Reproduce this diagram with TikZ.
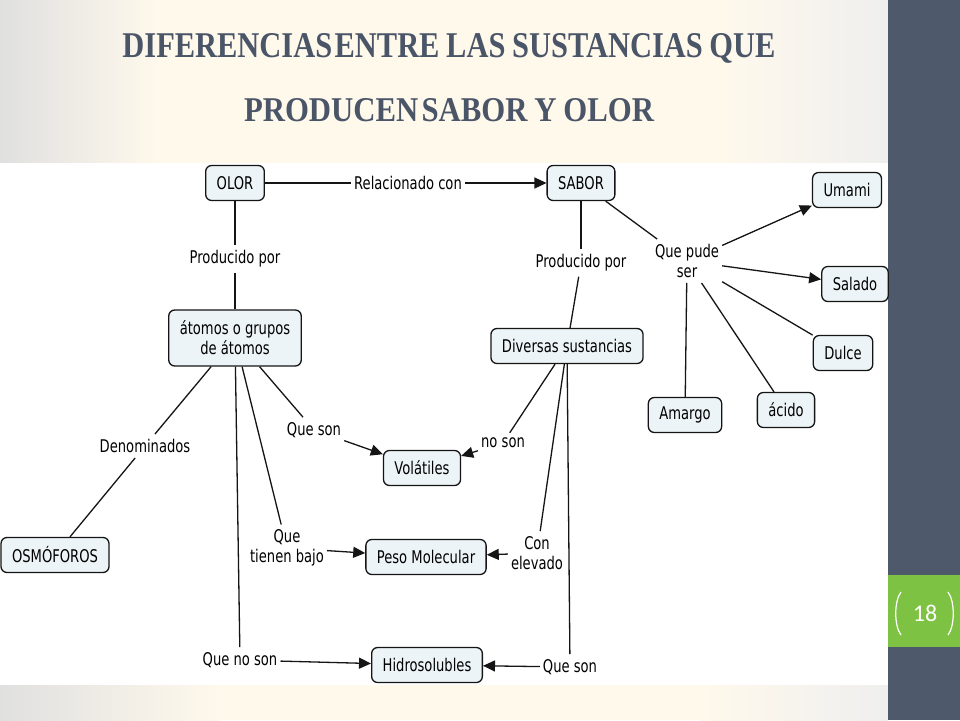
\documentclass[tikz,border=0pt]{standalone}
\usepackage{fontspec}
\setmainfont{DejaVu Sans}[FakeStretch=0.75]
\newfontfamily\titlefont{Liberation Serif}
\newfontfamily\numfont{Carlito}
\usetikzlibrary{arrows.meta}
\definecolor{titlecol}{HTML}{4A5568}
\definecolor{sidecol}{HTML}{4E5A6B}
\definecolor{greencol}{HTML}{7DC242}
\definecolor{boxfill}{HTML}{EDF4F7}
\definecolor{linecol}{HTML}{151515}
\definecolor{bggray}{HTML}{E0E0E0}
\definecolor{bgcream}{HTML}{FFF9EC}
\definecolor{bgright}{HTML}{EFEFEF}
\newcommand{\tsp}{\hspace{0.22em}}
\begin{document}
\begin{tikzpicture}[x=1pt,y=-1pt,
  cbox/.style={draw=linecol, line width=1.3pt, fill=boxfill, rounded corners=6pt, inner xsep=11pt, inner ysep=0pt, minimum height=35pt, font=\fontsize{17.5}{20}\selectfont, align=center},
  lab/.style={inner xsep=3pt, inner ysep=5pt, font=\fontsize{17.5}{20}\selectfont, align=center},
  conn/.style={draw=linecol, line width=1.3pt},
  arr/.style={conn, -{Triangle[length=12pt,width=11pt]}},
  ttl/.style={anchor=base, inner sep=0pt, text=titlecol}
]
\useasboundingbox (0,0) rectangle (960,720);
% background
\fill[bgcream] (0,0) rectangle (888,163);
\fill[bgcream] (0,685) rectangle (888,720);
\shade[left color=bggray, right color=bgcream] (0,0) rectangle (160,163);
\shade[left color=bgcream, right color=bgright] (720,0) rectangle (888,163);
\shade[left color=bggray, right color=bgcream] (0,685) rectangle (220,720);
\shade[left color=bgcream, right color=bgright] (700,685) rectangle (888,720);
\fill[white] (0,163) rectangle (888,685);
\fill[sidecol] (888,0) rectangle (960,720);
\fill[greencol] (888,575) rectangle (960,647);
\draw[white, line width=1.2pt] (901,592) .. controls (894,601) and (894,626) .. (901,635);
\draw[white, line width=1.2pt] (948,592) .. controls (955,601) and (955,626) .. (948,635);
\node[text=white, font=\numfont\fontsize{24}{24}\selectfont] (num) at (925,613) {18};
% title
\node[ttl] (t1) at (449,57) {\resizebox{653pt}{24pt}{\titlefont\bfseries DIFERENCIAS\hspace{0.08em}ENTRE\tsp LAS\tsp SUSTANCIAS\tsp QUE}};
\node[ttl] (t2) at (449,121) {\resizebox{410pt}{23pt}{\titlefont\bfseries PRODUCEN\hspace{0.1em}SABOR\tsp Y\tsp OLOR}};
% concepts
\node[cbox] (olor) at (235,183) {OLOR};
\node[cbox] (sabor) at (581,183) {SABOR};
\node[cbox, minimum height=56pt] (atomos) at (235,338) {átomos o grupos\\de átomos};
\node[cbox] (diversas) at (567,346) {Diversas sustancias};
\node[cbox] (umami) at (847,190) {Umami};
\node[cbox] (salado) at (855,284) {Salado};
\node[cbox] (dulce) at (843,353) {Dulce};
\node[cbox] (acido) at (786,410) {ácido};
\node[cbox] (amargo) at (685,415) {Amargo};
\node[cbox] (osmo) at (55,555) {OSMÓFOROS};
\node[cbox] (volatiles) at (422,468) {Volátiles};
\node[cbox] (peso) at (426,557) {Peso Molecular};
\node[cbox] (hidro) at (427,665) {Hidrosolubles};
% linking phrases
\node[lab] (rel) at (408,183) {Relacionado con};
\node[lab] (prod1) at (235,259) {Producido por};
\node[lab] (prod2) at (581,263) {Producido por};
\node[lab] (qps) at (687,261) {Que pude\\ser};
\node[lab] (denom) at (145,446) {Denominados};
\node[lab] (queson1) at (314,430) {Que son};
\node[lab] (tienen) at (287,548) {Que\\tienen bajo};
\node[lab] (queno) at (240,660) {Que no son};
\node[lab] (noson) at (503,443) {no son};
\node[lab] (conelev) at (537,553) {Con\\elevado};
\node[lab] (queson2) at (570,667) {Que son};
% connectors
\draw[conn] (olor) -- (rel);
\draw[arr] (rel) -- (sabor);
\draw[conn] (olor) -- (prod1);
\draw[conn] (prod1) -- (atomos);
\draw[conn] (sabor) -- (prod2);
\draw[conn] (prod2) -- (diversas);
\draw[conn] (sabor) -- (qps);
\draw[arr] (qps) -- (umami);
\draw[arr] (qps) -- (salado);
\draw[conn] (qps) -- (dulce);
\draw[conn] (qps) -- (acido);
\draw[conn] (qps) -- (amargo);
\draw[conn] (atomos) -- (denom);
\draw[conn] (denom) -- (osmo);
\draw[conn] (atomos) -- (queson1);
\draw[arr] (queson1) -- (volatiles);
\draw[conn] (atomos) -- (tienen);
\draw[arr] (tienen) -- (peso);
\draw[conn] (atomos) -- (queno);
\draw[arr] (queno) -- (hidro);
\draw[conn] (diversas) -- (noson);
\draw[arr] (noson) -- (volatiles);
\draw[conn] (diversas) -- (conelev);
\draw[arr] (conelev) -- (peso);
\draw[conn] (diversas) -- (queson2);
\draw[arr] (queson2) -- (hidro);
\end{tikzpicture}
\end{document}
